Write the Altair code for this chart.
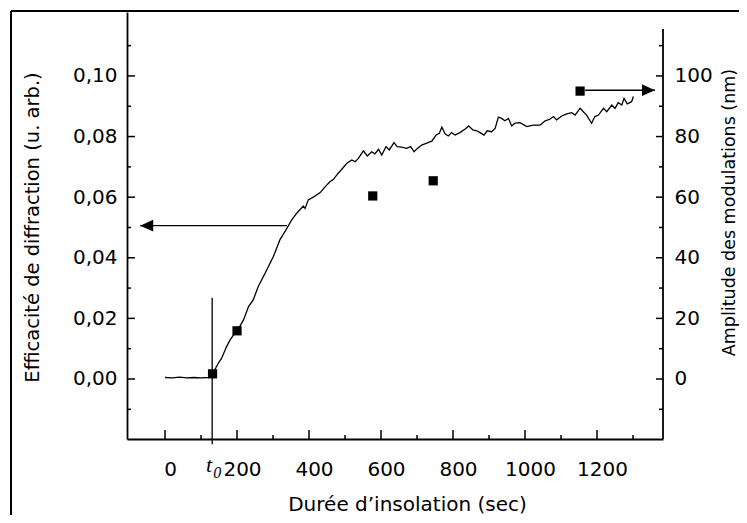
import altair as alt
import pandas as pd

# ---------------- data ----------------
t_curve = [0, 20, 40, 60, 80, 100, 120, 130, 138, 148, 157, 171, 181, 190, 201, 218, 232,
           245, 259, 278, 301, 319, 333, 352, 366, 384, 389, 398, 412, 431, 444, 458, 468,
           481, 491, 505, 519, 528, 537, 551, 562, 574, 583, 593, 602, 614, 623, 636, 645,
           657, 671, 682, 692, 701, 713, 727, 741, 753, 762, 769, 778, 787, 796, 806, 819,
           833, 844, 855, 866, 875, 886, 895, 907, 917, 926, 935, 944, 954, 963, 972, 986,
           1005, 1023, 1042, 1056, 1069, 1079, 1088, 1102, 1116, 1130, 1139, 1153, 1162,
           1171, 1185, 1194, 1204, 1218, 1227, 1241, 1250, 1259, 1269, 1275, 1284, 1296, 1301]
eff_curve = [0.0005, 0.0004, 0.0006, 0.0004, 0.0005, 0.0004, 0.0005, 0.0006, 0.0030, 0.0052,
             0.0068, 0.0107, 0.0129, 0.0145, 0.0159, 0.0195, 0.0239, 0.0261, 0.0305, 0.0349,
             0.0404, 0.0459, 0.0486, 0.0525, 0.0547, 0.0571, 0.0563, 0.0591, 0.0600, 0.0615,
             0.0633, 0.0651, 0.0659, 0.0679, 0.0692, 0.0712, 0.0723, 0.0717, 0.0728, 0.0753,
             0.0736, 0.0750, 0.0743, 0.0758, 0.0739, 0.0767, 0.0756, 0.0780, 0.0767, 0.0765,
             0.0761, 0.0767, 0.0750, 0.0761, 0.0772, 0.0778, 0.0785, 0.0805, 0.0811, 0.0831,
             0.0809, 0.0802, 0.0813, 0.0805, 0.0813, 0.0824, 0.0835, 0.0822, 0.0819, 0.0813,
             0.0805, 0.0819, 0.0816, 0.0827, 0.0864, 0.0860, 0.0852, 0.0860, 0.0835, 0.0844,
             0.0846, 0.0833, 0.0838, 0.0838, 0.0852, 0.0857, 0.0866, 0.0855, 0.0868, 0.0875,
             0.0879, 0.0871, 0.0893, 0.0882, 0.0871, 0.0844, 0.0866, 0.0871, 0.0893, 0.0882,
             0.0904, 0.0893, 0.0912, 0.0904, 0.0926, 0.0908, 0.0915, 0.0932]

t_squares = [132, 200, 577, 745, 1153]
amp_squares = [1.7, 15.9, 60.4, 65.4, 95.0]

t0 = 131
t0_line = [0.0268, -0.0215]

left_arrow_x = [339, -69]
left_arrow_y = 0.0506
right_arrow_x = [1167, 1361]
right_arrow_y = 95.3

x_major = [0, 200, 400, 600, 800, 1000, 1200]
x_minor = [100, 300, 500, 700, 900, 1100, 1300]
left_major = [0.0, 0.02, 0.04, 0.06, 0.08, 0.10]
left_minor = [-0.01, 0.01, 0.03, 0.05, 0.07, 0.09, 0.11]
right_major = [0, 20, 40, 60, 80, 100]
right_minor = [-10, 10, 30, 50, 70, 90, 110]

X_TITLE = "Durée d’insolation (sec)"
YL_TITLE = "Efficacité de diffraction (u. arb.)"
YR_TITLE = "Amplitude des modulations (nm)"

# ---------------- layout ----------------
W, H = 536, 427
X_DOMAIN = [-105.6, 1383.3]
YL_DOMAIN = [-0.0198, 0.1211]
YR_DOMAIN = [-19.8, 121.1]
FONT = "DejaVu Sans"

x_axis = alt.Axis(values=x_major, format="d", ticks=False, grid=False, domain=True,
                  domainColor="black", domainWidth=1.8, labelFont=FONT, labelFontSize=20,
                  labelColor="black", labelPadding=20, labelOffset=5, labelFlush=False,
                  labelOverlap=False,
                  title=X_TITLE, titleFont=FONT, titleFontSize=20, titleFontWeight="normal",
                  titleColor="black", titleX=280, titleY=71, titleBaseline="alphabetic")
yl_axis = alt.Axis(orient="left", values=left_major, ticks=False, grid=False, domain=True,
                   domainColor="black", domainWidth=1.8,
                   labelExpr="replace(format(datum.value, '.2f'), '.', ',')",
                   labelFont=FONT, labelFontSize=20, labelColor="black", labelPadding=10,
                   labelFlush=False, labelOverlap=False,
                   title=YL_TITLE, titleFont=FONT, titleFontSize=19.5, titleFontWeight="normal",
                   titleColor="black", titleAngle=270, titleX=-89, titleY=215,
                   titleBaseline="alphabetic")
yr_axis = alt.Axis(orient="right", values=right_major, format="d", ticks=False, grid=False,
                   domain=False, labelFont=FONT, labelFontSize=20, labelColor="black",
                   labelPadding=11, labelFlush=False, labelOverlap=False,
                   title=YR_TITLE, titleFont=FONT, titleFontSize=17.5, titleFontWeight="normal",
                   titleColor="black", titleAngle=270, titleX=71, titleY=200,
                   titleBaseline="alphabetic")

xs = alt.Scale(domain=X_DOMAIN, nice=False, zero=False)
yls = alt.Scale(domain=YL_DOMAIN, nice=False, zero=False)
yrs = alt.Scale(domain=YR_DOMAIN, nice=False, zero=False)


def X(f="t"):
    return alt.X(f, type="quantitative", scale=xs, axis=x_axis)


def YL(f="v"):
    return alt.Y(f, type="quantitative", scale=yls, axis=yl_axis)


def YR(f="v"):
    return alt.Y(f, type="quantitative", scale=yrs, axis=yr_axis)


curve_df = pd.DataFrame({"t": t_curve, "v": eff_curve})
sq_df = pd.DataFrame({"t": t_squares, "v": amp_squares})
t0_df = pd.DataFrame({"t": [t0], "v": [t0_line[0]], "v2": [t0_line[1]]})
la_df = pd.DataFrame({"t": [left_arrow_x[0]], "t2": [left_arrow_x[1]], "v": [left_arrow_y]})
lah_df = pd.DataFrame({"t": [left_arrow_x[1]], "v": [left_arrow_y]})
ra_df = pd.DataFrame({"t": [right_arrow_x[0]], "t2": [right_arrow_x[1]], "v": [right_arrow_y]})
rah_df = pd.DataFrame({"t": [right_arrow_x[1]], "v": [right_arrow_y]})
xmaj_df = pd.DataFrame({"t": x_major})
xmin_df = pd.DataFrame({"t": x_minor})
lmaj_df = pd.DataFrame({"v": left_major})
lmin_df = pd.DataFrame({"v": left_minor})
rmaj_df = pd.DataFrame({"v": right_major})
rmin_df = pd.DataFrame({"v": right_minor})
one_df = pd.DataFrame({"t": [t0]})

curve = alt.Chart(curve_df).mark_line(color="black", strokeWidth=1.3).encode(x=X(), y=YL())
t0_rule = alt.Chart(t0_df).mark_rule(color="black", strokeWidth=1.3).encode(
    x=X(), y=YL(), y2="v2")
la_shaft = alt.Chart(la_df).mark_rule(color="black", strokeWidth=1.4).encode(
    x=X(), x2="t2", y=YL())
la_head = alt.Chart(lah_df).mark_point(shape="M0,0L2,-0.9L2,0.9Z", filled=True, opacity=1,
                                        color="black", size=169).encode(x=X(), y=YL())
xt_major = alt.Chart(xmaj_df).mark_rule(color="black", strokeWidth=1.5).encode(
    x=X(), y=alt.value(H), y2=alt.value(H - 9))
xt_minor = alt.Chart(xmin_df).mark_rule(color="black", strokeWidth=1.5).encode(
    x=X(), y=alt.value(H), y2=alt.value(H - 4))
lt_major = alt.Chart(lmaj_df).mark_rule(color="black", strokeWidth=1.5).encode(
    y=YL(), x=alt.value(0), x2=alt.value(8))
lt_minor = alt.Chart(lmin_df).mark_rule(color="black", strokeWidth=1.5).encode(
    y=YL(), x=alt.value(0), x2=alt.value(4))
t_text = alt.Chart(one_df).mark_text(text="t", font="Liberation Serif", fontStyle="italic",
                                     fontSize=22, color="black", dx=-3, align="center",
                                     baseline="alphabetic").encode(x=X(), y=alt.value(H + 33))
sub_text = alt.Chart(one_df).mark_text(text="0", font="Liberation Serif", fontStyle="italic",
                                       fontSize=16, color="black", dx=5, align="center",
                                       baseline="alphabetic").encode(x=X(), y=alt.value(H + 39))
frame_top = alt.Chart(one_df).mark_rule(color="black", strokeWidth=2).encode(
    x=alt.value(-116), x2=alt.value(W + 120), y=alt.value(-1))
frame_left = alt.Chart(one_df).mark_rule(color="black", strokeWidth=2).encode(
    x=alt.value(-116), y=alt.value(-1), y2=alt.value(H + 120))

left = alt.layer(curve, t0_rule, la_shaft, la_head, xt_major, xt_minor, lt_major, lt_minor,
                 t_text, sub_text, frame_top, frame_left)

squares = alt.Chart(sq_df).mark_square(color="black", size=85, opacity=1).encode(x=X(), y=YR())
ra_shaft = alt.Chart(ra_df).mark_rule(color="black", strokeWidth=1.4).encode(
    x=X(), x2="t2", y=YR())
ra_head = alt.Chart(rah_df).mark_point(shape="M0,0L-2,-0.9L-2,0.9Z", filled=True, opacity=1,
                                        color="black", size=169).encode(x=X(), y=YR())
rt_major = alt.Chart(rmaj_df).mark_rule(color="black", strokeWidth=1.5).encode(
    y=YR(), x=alt.value(W - 7), x2=alt.value(W))
rt_minor = alt.Chart(rmin_df).mark_rule(color="black", strokeWidth=1.5).encode(
    y=YR(), x=alt.value(W - 4), x2=alt.value(W))
r_axis_line = alt.Chart(one_df).mark_rule(color="black", strokeWidth=1.8).encode(
    x=alt.value(W), y=alt.value(17), y2=alt.value(H))

right = alt.layer(squares, ra_shaft, ra_head, rt_major, rt_minor, r_axis_line)

chart = alt.layer(left, right).resolve_scale(y="independent").properties(
    width=W, height=H, autosize="none",
    padding={"left": 119, "top": 4, "right": 76, "bottom": 76},
    background="white",
).configure_view(strokeWidth=0)

chart.save("out.html", embed_options={"renderer": "svg", "actions": False})
